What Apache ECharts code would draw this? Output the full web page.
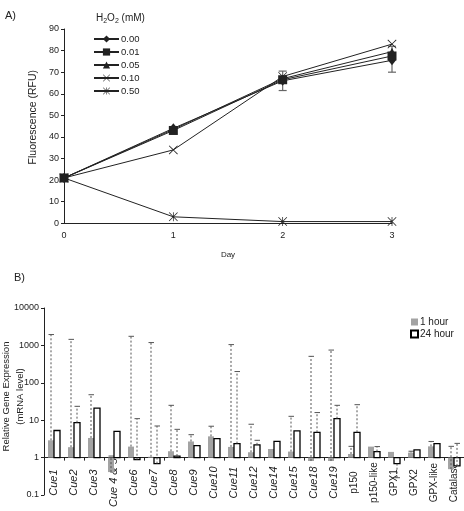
<!DOCTYPE html>
<html><head><meta charset="utf-8">
<script src="https://cdn.jsdelivr.net/npm/echarts@6/dist/echarts.min.js"></script>
<style>html,body{margin:0;padding:0;background:#fff}#c{width:464px;height:511px}</style>
</head><body><div id="c"></div>
<script>
// ---------- Panel A data ----------
const days = [0, 1, 2, 3];
const h2o2Levels = ['0.00', '0.01', '0.05', '0.10', '0.50'];
const fluor000 = [21, 44, 66, 75.5];
const fluor001 = [21, 43, 66.5, 77.5];
const fluor005 = [21, 43.5, 67, 79.5];
const fluor010 = [21, 34, 68, 83];
const fluor050 = [21, 3, 0.8, 0.8];
const errDays = [2, 3];
const errLow = [61.5, 70];
const errHigh = [70.5, 82];

// ---------- Panel B data ----------
const genes = ['Cue1','Cue2','Cue3','Cue 4 & 5','Cue6','Cue7','Cue8','Cue9','Cue10','Cue11','Cue12','Cue14','Cue15','Cue18','Cue19','p150','p150-like','GPX1','GPX2','GPX-like','Catalase'];
const hour1    = [2.9, 1.9, 3.35, 0.41, 1.97, 1.05, 1.48, 2.7, 3.7, 1.93, 1.39, 1.7, 1.45, 0.81, 0.81, 1.25, 1.97, 1.42, 1.36, 2.0, 0.49];
const hour1Err = [1950, 1450, 48, 1.1, 1750, 1190, 25, 4.1, 6.9, 1050, 7.8, null, 12.7, 510, 750, 2.0, null, null, 1.48, 2.7, 2.0];
const hour24    = [5.3, 8.6, 21, 5.0, 0.88, 0.69, 1.1, 2.1, 3.2, 2.37, 2.2, 2.7, 5.2, 4.75, 11, 4.75, 1.45, 0.69, 1.6, 2.37, 0.6];
const hour24Err = [null, 23.5, null, null, 11, 7.0, 5.7, null, null, 200, 2.9, null, null, 16, 25, 26, 1.97, 0.29, null, null, 2.4];

const FONT = "'Liberation Sans', Arial, sans-serif";
const INK = '#222';
const xPath = 'path://M0,6 L6,0 L50,44 L94,0 L100,6 L56,50 L100,94 L94,100 L50,56 L6,100 L0,94 L44,50 Z';
const starPath = 'path://M0,6 L6,0 L50,44 L94,0 L100,6 L56,50 L100,94 L94,100 L50,56 L6,100 L0,94 L44,50 Z M46,0 L54,0 L54,100 L46,100 Z';

function lineSeries(name, values, symbol, size) {
  return {
    type: 'line', name, xAxisIndex: 0, yAxisIndex: 0,
    data: days.map((d, i) => [d, values[i]]),
    symbol, symbolSize: size, showSymbol: true,
    lineStyle: { color: INK, width: 1 },
    itemStyle: { color: INK, borderWidth: 0 },
    emphasis: { disabled: true }, animation: false, z: 3
  };
}

function barRenderer(side) {
  return function (params, api) {
    const idx = api.value(0);
    const v = api.value(1);
    const e = api.value(2);
    const p = api.coord([idx, v]);
    const base = api.coord([idx, 1]);
    const band = api.coord([1, 1])[0] - api.coord([0, 1])[0];
    const bw = band * 0.3;
    const x = side === 0 ? p[0] - bw : p[0];
    const y = Math.min(p[1], base[1]);
    const h = Math.abs(p[1] - base[1]);
    const children = [{
      type: 'rect',
      shape: { x: x, y: y, width: bw, height: h },
      style: side === 0 ? { fill: '#a3a3a3' } : { fill: '#fff', stroke: '#000', lineWidth: 1.3 }
    }];
    if (e != null && !isNaN(e) && e > 0) {
      const pe = api.coord([idx, e]);
      const cx = x + bw / 2;
      children.push({
        type: 'line', shape: { x1: cx, y1: p[1], x2: cx, y2: pe[1] },
        style: { stroke: '#555', lineWidth: 1, lineDash: [2, 2] }
      });
      children.push({
        type: 'line', shape: { x1: cx - 2.5, y1: pe[1], x2: cx + 3, y2: pe[1] },
        style: { stroke: '#555', lineWidth: 1 }
      });
    }
    return { type: 'group', children };
  };
}

const chart = echarts.init(document.getElementById('c'), null, { renderer: 'canvas' });
chart.setOption({
  backgroundColor: '#fff',
  animation: false,
  textStyle: { fontFamily: FONT, color: INK },
  grid: [
    { left: 64, top: 29, width: 328, height: 194.3, outerBoundsMode: 'none', containLabel: false },
    { left: 44, top: 308, width: 420, height: 187, outerBoundsMode: 'none', containLabel: false }
  ],
  graphic: [
    { type: 'text', left: 5, top: 10, style: { text: 'A)', font: '11px ' + FONT, fill: INK } },
    { type: 'text', left: 14, top: 272, style: { text: 'B)', font: '11px ' + FONT, fill: INK } },
    { type: 'text', left: 96, top: 13, style: {
        text: 'H{s|2}O{s|2} (mM)', font: '10px ' + FONT, fill: INK,
        rich: { s: { fontSize: 7, padding: [6, 0, 0, 0], fontFamily: FONT } }
      } }
  ],
  legend: [
    {
      data: h2o2Levels, orient: 'vertical', left: 93, top: 34, padding: 0,
      itemWidth: 25, itemHeight: 9, itemGap: 3,
      textStyle: { fontSize: 9.5, color: INK, fontFamily: FONT, padding: [0, 0, 0, -3] },
      selectedMode: false
    },
    {
      data: ['1 hour', '24 hour'], orient: 'vertical', left: 410, top: 317, padding: 0,
      itemWidth: 7, itemHeight: 7, itemGap: 2, icon: 'rect',
      textStyle: { fontSize: 10, color: INK, fontFamily: FONT, padding: [0, 0, 0, -3] },
      selectedMode: false
    }
  ],
  xAxis: [
    {
      type: 'value', gridIndex: 0, min: 0, max: 3, interval: 1,
      name: 'Day', nameLocation: 'middle', nameGap: 27,
      nameTextStyle: { fontSize: 8, color: INK },
      axisLine: { lineStyle: { color: INK, width: 1 } },
      axisTick: { show: false },
      axisLabel: { fontSize: 9, color: INK, margin: 8 },
      splitLine: { show: false }
    },
    {
      type: 'category', gridIndex: 1, data: genes, offset: -37.4,
      boundaryGap: true,
      axisLine: { lineStyle: { color: INK, width: 1 } },
      axisTick: { show: true, length: 3, interval: 0, lineStyle: { color: INK } },
      axisLabel: {
        interval: 0, rotate: 90, align: 'center', verticalAlign: 'middle', margin: 25,
        color: INK,
        formatter: v => v.startsWith('Cue') ? '{i|' + v + '}' : '{n|' + v + '}',
        rich: {
          i: { fontStyle: 'italic', fontSize: 11, fontFamily: FONT, color: INK },
          n: { fontSize: 10, fontFamily: FONT, color: INK }
        }
      },
      splitLine: { show: false }
    }
  ],
  yAxis: [
    {
      type: 'value', gridIndex: 0, min: 0, max: 90, interval: 10,
      name: 'Fluorescence (RFU)', nameLocation: 'middle', nameGap: 25, nameRotate: 90,
      nameMoveOverlap: false,
      nameTextStyle: { fontSize: 10.5, color: INK, padding: [0, 0, 0, 18] },
      axisLine: { show: true, lineStyle: { color: INK, width: 1 } },
      axisTick: { show: true, length: 3, lineStyle: { color: INK } },
      axisLabel: { fontSize: 9, color: INK, margin: 5 },
      splitLine: { show: false }
    },
    {
      type: 'log', logBase: 10, gridIndex: 1, min: 0.1, max: 10000,
      name: 'Relative Gene Expression\n(mRNA level)', nameLocation: 'middle', nameGap: 17, nameRotate: 90,
      nameMoveOverlap: false,
      nameTextStyle: { fontSize: 9.5, lineHeight: 14, color: INK, padding: [0, 0, 0, 10] },
      axisLine: { show: true, lineStyle: { color: INK, width: 1 } },
      axisTick: { show: true, length: 3, lineStyle: { color: INK } },
      minorTick: { show: false },
      axisLabel: { fontSize: 9, color: INK, margin: 5, formatter: v => String(+v.toPrecision(6)) },
      splitLine: { show: false }
    }
  ],
  series: [
    {
      type: 'custom', name: 'errA', xAxisIndex: 0, yAxisIndex: 0, z: 2,
      data: errDays.map((d, i) => [d, errLow[i], errHigh[i]]),
      encode: { x: 0, y: [1, 2] },
      renderItem: function (params, api) {
        const lo = api.coord([api.value(0), api.value(1)]);
        const hi = api.coord([api.value(0), api.value(2)]);
        const st = { stroke: '#666', lineWidth: 1.2 };
        return { type: 'group', children: [
          { type: 'line', shape: { x1: lo[0], y1: lo[1], x2: hi[0], y2: hi[1] }, style: st },
          { type: 'line', shape: { x1: lo[0] - 4, y1: lo[1], x2: lo[0] + 4, y2: lo[1] }, style: st },
          { type: 'line', shape: { x1: hi[0] - 4, y1: hi[1], x2: hi[0] + 4, y2: hi[1] }, style: st }
        ] };
      }
    },
    lineSeries('0.00', fluor000, 'diamond', [8, 10]),
    lineSeries('0.01', fluor001, 'rect', 9),
    lineSeries('0.05', fluor005, 'triangle', 8),
    lineSeries('0.10', fluor010, xPath, 9),
    lineSeries('0.50', fluor050, starPath, 9),
    {
      type: 'custom', name: '1 hour', xAxisIndex: 1, yAxisIndex: 1,
      data: genes.map((g, i) => [i, hour1[i], hour1Err[i] == null ? NaN : hour1Err[i]]),
      encode: { x: 0, y: 1 },
      itemStyle: { color: '#a3a3a3' },
      renderItem: barRenderer(0)
    },
    {
      type: 'custom', name: '24 hour', xAxisIndex: 1, yAxisIndex: 1,
      data: genes.map((g, i) => [i, hour24[i], hour24Err[i] == null ? NaN : hour24Err[i]]),
      encode: { x: 0, y: 1 },
      itemStyle: { color: '#fff', borderColor: '#000', borderWidth: 1 },
      renderItem: barRenderer(1)
    }
  ]
});
</script>
</body></html>
